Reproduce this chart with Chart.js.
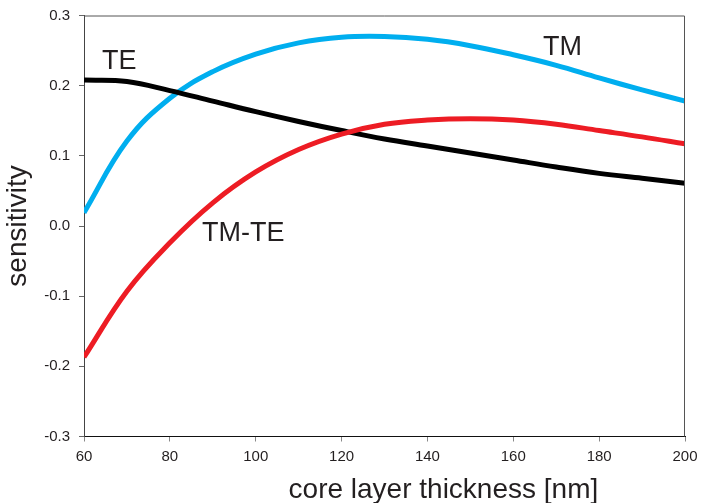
<!DOCTYPE html>
<html>
<head>
<meta charset="utf-8">
<script src="https://cdn.jsdelivr.net/npm/chart.js@4.4.1/dist/chart.umd.min.js"></script>
<style>
  html, body { margin: 0; padding: 0; background: #fff; }
  #wrap { width: 701px; height: 503px; }
</style>
</head>
<body>
<div id="wrap"><canvas id="c" width="701" height="503"></canvas></div>
<script>
// Core layer thickness (nm)
const thickness = [60, 70, 80, 90, 100, 110, 120, 130, 140, 150, 160, 170, 180, 190, 200];
// Sensitivity of each mode
const sensTE   = [0.208, 0.206, 0.193, 0.178, 0.163, 0.149, 0.136, 0.124, 0.114, 0.104, 0.094, 0.084, 0.075, 0.068, 0.061];
const sensTM   = [0.019, 0.121, 0.182, 0.220, 0.245, 0.261, 0.269, 0.270, 0.266, 0.257, 0.244, 0.229, 0.211, 0.194, 0.178];
const sensDiff = [-0.187, -0.093, -0.024, 0.033, 0.077, 0.109, 0.131, 0.145, 0.151, 0.153, 0.151, 0.145, 0.136, 0.127, 0.117];

const xTicks = [60, 80, 100, 120, 140, 160, 180, 200];
const yTicks = [-0.3, -0.2, -0.1, 0.0, 0.1, 0.2, 0.3];

// Curve labels, placed in data coordinates
const curveLabels = [
  { text: 'TE',    x: 64.2,  y: 0.224 },
  { text: 'TM',    x: 166.9, y: 0.244 },
  { text: 'TM-TE', x: 87.5,  y: -0.022 }
];
const xTitle = 'core layer thickness [nm]';
const yTitle = 'sensitivity';

const FONT = '"Liberation Sans", Arial, Helvetica, sans-serif';
const TEXT = '#231f20';

const toPoints = ys => thickness.map((x, i) => ({ x, y: ys[i] }));

const frameAndLabels = {
  id: 'frameAndLabels',
  afterDatasetsDraw(chart) {
    const { ctx, chartArea: a, scales } = chart;
    ctx.save();
    // top and right frame lines
    ctx.strokeStyle = '#555';
    ctx.lineWidth = 1;
    ctx.beginPath();
    ctx.moveTo(a.left, a.top + 0.5);
    ctx.lineTo(a.right - 0.5, a.top + 0.5);
    ctx.lineTo(a.right - 0.5, a.bottom);
    ctx.stroke();
    // curve names
    ctx.fillStyle = TEXT;
    ctx.font = '27px ' + FONT;
    ctx.textAlign = 'left';
    ctx.textBaseline = 'alphabetic';
    curveLabels.forEach(l => {
      ctx.fillText(l.text, scales.x.getPixelForValue(l.x), scales.y.getPixelForValue(l.y));
    });
    // horizontal axis title, set right of the axis centre
    ctx.font = '28px ' + FONT;
    ctx.textAlign = 'center';
    ctx.fillText(xTitle, a.left + a.width * 0.598, chart.height - 5);
    ctx.restore();
  }
};

const lineStyle = color => ({
  borderColor: color,
  backgroundColor: color,
  borderWidth: 5,
  pointRadius: 0,
  fill: false,
  tension: 0.4,
  cubicInterpolationMode: 'default',
  borderCapStyle: 'butt'
});

new Chart(document.getElementById('c'), {
  type: 'line',
  data: {
    datasets: [
      { label: 'TM-TE', data: toPoints(sensDiff), ...lineStyle('#ed1c24') },
      { label: 'TE',    data: toPoints(sensTE),   ...lineStyle('#000000') },
      { label: 'TM',    data: toPoints(sensTM),   ...lineStyle('#00aeef') }
    ]
  },
  options: {
    responsive: false,
    animation: false,
    devicePixelRatio: 1,
    layout: { padding: { left: 0, right: 16, top: 15.5, bottom: 0 } },
    plugins: { legend: { display: false }, tooltip: { enabled: false } },
    scales: {
      x: {
        type: 'linear',
        min: 60, max: 200,
        afterBuildTicks: s => { s.ticks = xTicks.map(v => ({ value: v })); },
        afterFit: s => { s.height = 66.5; s.paddingLeft = 0; s.paddingRight = 0; },
        grid: { drawOnChartArea: false, drawTicks: true, tickLength: 5, tickColor: '#888', lineWidth: 1 },
        border: { display: true, color: '#111', width: 1 },
        ticks: { color: TEXT, font: { family: FONT, size: 15 }, padding: 6, maxRotation: 0, callback: v => String(v) },
        title: { display: false }
      },
      y: {
        type: 'linear',
        min: -0.3, max: 0.3,
        afterBuildTicks: s => { s.ticks = yTicks.map(v => ({ value: v })); },
        afterFit: s => { s.width = 84; s.paddingTop = 0; s.paddingBottom = 0; },
        grid: { drawOnChartArea: false, drawTicks: true, tickLength: 5, tickColor: '#666', lineWidth: 1 },
        border: { display: true, color: '#444', width: 1 },
        ticks: { color: TEXT, font: { family: FONT, size: 15 }, padding: 9, callback: v => Number(v).toFixed(1) },
        title: { display: true, text: yTitle, color: TEXT, font: { family: FONT, size: 28 }, padding: { top: 1, bottom: 0 } }
      }
    }
  },
  plugins: [frameAndLabels]
});
</script>
</body>
</html>
